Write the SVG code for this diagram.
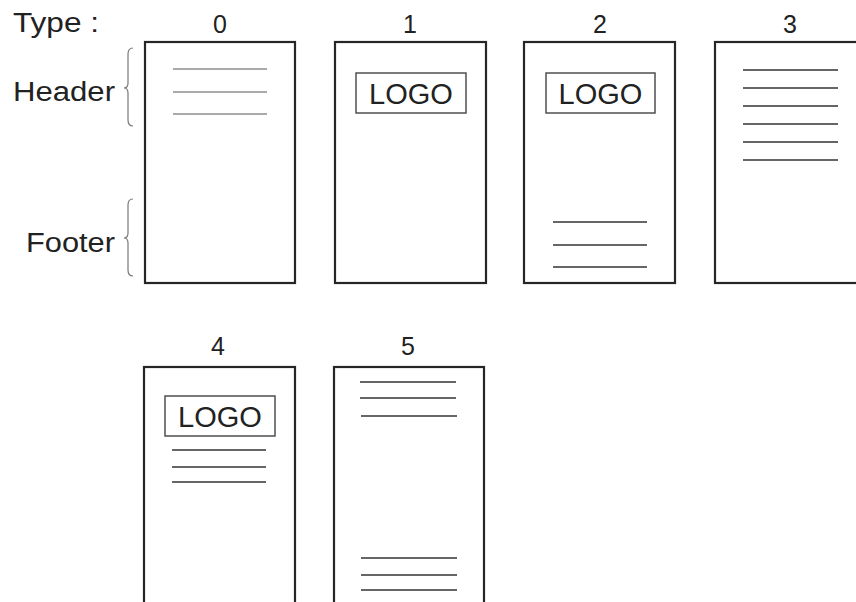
<svg xmlns="http://www.w3.org/2000/svg" width="856" height="602" viewBox="0 0 856 602">
<style>
text{font-family:"Liberation Sans",Arial,sans-serif;fill:#222}
.lbl{font-size:25px;text-anchor:middle}
.side{font-size:27px}
.page{fill:#fff;stroke:#262626;stroke-width:2.2}
.logo{fill:none;stroke:#444;stroke-width:1.4}
.logotxt{font-size:29px;text-anchor:middle}
.ln{stroke:#333;stroke-width:1.5}
.gl{stroke:#aaa;stroke-width:2}
.brace{fill:none;stroke:#777;stroke-width:1.2}
</style>
<rect width="856" height="602" fill="#fff"/>
<g id="legend">
<text class="side" x="13" y="32" textLength="86" lengthAdjust="spacingAndGlyphs">Type :</text>
<text class="side" x="13" y="101" textLength="102" lengthAdjust="spacingAndGlyphs">Header</text>
<text class="side" x="26" y="252" textLength="89" lengthAdjust="spacingAndGlyphs">Footer</text>
<path class="brace" d="M133,48 Q128,48 128,54 L128,83 Q128,88 124,88 Q128,88 128,93 L128,120 Q128,126 133,126"/>
<path class="brace" d="M133,199 Q128,199 128,205 L128,233 Q128,238 124,238 Q128,238 128,243 L128,270 Q128,276 133,276"/>
</g>
<g id="type0">
<text class="lbl" x="220" y="33">0</text>
<rect class="page" x="145" y="42" width="150" height="241"/>
<line class="gl" x1="173" y1="69" x2="267" y2="69"/>
<line class="gl" x1="173" y1="92" x2="267" y2="92"/>
<line class="gl" x1="173" y1="114" x2="267" y2="114"/>
</g>
<g id="type1">
<text class="lbl" x="410" y="33">1</text>
<rect class="page" x="335" y="42" width="151" height="241"/>
<rect class="logo" x="356" y="73" width="110" height="40"/>
<text class="logotxt" x="411" y="104">LOGO</text>
</g>
<g id="type2">
<text class="lbl" x="600" y="33">2</text>
<rect class="page" x="524" y="42" width="151" height="241"/>
<rect class="logo" x="546" y="73" width="109" height="40"/>
<text class="logotxt" x="600.5" y="104">LOGO</text>
<line class="ln" x1="553" y1="222" x2="647" y2="222"/>
<line class="ln" x1="553" y1="245" x2="647" y2="245"/>
<line class="ln" x1="553" y1="267" x2="647" y2="267"/>
</g>
<g id="type3">
<text class="lbl" x="790" y="33">3</text>
<rect class="page" x="715" y="42" width="151" height="241"/>
<line class="ln" x1="743" y1="70" x2="838" y2="70"/>
<line class="ln" x1="743" y1="88" x2="838" y2="88"/>
<line class="ln" x1="743" y1="106" x2="838" y2="106"/>
<line class="ln" x1="743" y1="124" x2="838" y2="124"/>
<line class="ln" x1="743" y1="142" x2="838" y2="142"/>
<line class="ln" x1="743" y1="160" x2="838" y2="160"/>
</g>
<g id="type4">
<text class="lbl" x="218" y="355">4</text>
<rect class="page" x="144" y="367" width="151" height="250"/>
<rect class="logo" x="165" y="396" width="110" height="40"/>
<text class="logotxt" x="220" y="427">LOGO</text>
<line class="ln" x1="172" y1="450" x2="266" y2="450"/>
<line class="ln" x1="172" y1="467" x2="266" y2="467"/>
<line class="ln" x1="172" y1="482" x2="266" y2="482"/>
</g>
<g id="type5">
<text class="lbl" x="408" y="355">5</text>
<rect class="page" x="334" y="367" width="150" height="250"/>
<line class="ln" x1="360" y1="382" x2="456" y2="382"/>
<line class="ln" x1="360" y1="398" x2="456" y2="398"/>
<line class="ln" x1="361" y1="416" x2="457" y2="416"/>
<line class="ln" x1="361" y1="558" x2="457" y2="558"/>
<line class="ln" x1="361" y1="575" x2="457" y2="575"/>
<line class="ln" x1="361" y1="590" x2="457" y2="590"/>
</g>
<g id="connectors"/>
</svg>
